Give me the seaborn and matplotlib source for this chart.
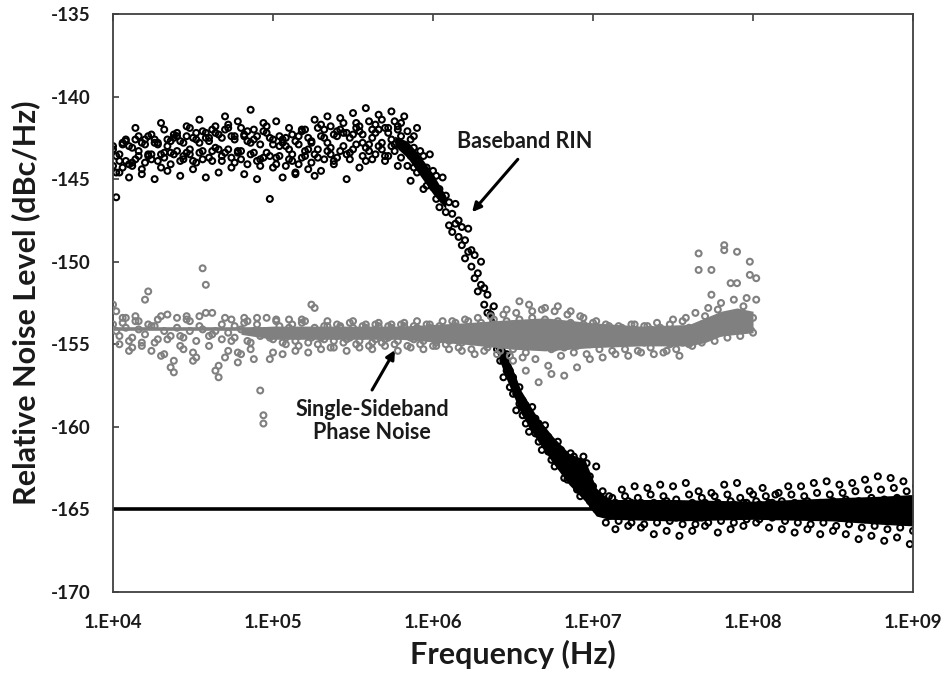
import numpy as np
import pandas as pd
import matplotlib
matplotlib.use("Agg")
import matplotlib.pyplot as plt
from matplotlib.ticker import FixedLocator, FuncFormatter, NullLocator
import seaborn as sns

sns.set_theme(style="white")
plt.rcParams['font.family'] = ['Lato', 'DejaVu Sans']
plt.rcParams['axes.unicode_minus'] = False

# sweep points, log10(frequency / Hz); two interleaved sweeps
grid_a = [4.00, 4.04, 4.08, 4.12, 4.16, 4.20, 4.24, 4.28, 4.32, 4.36,
          4.40, 4.44, 4.48, 4.52, 4.56, 4.60, 4.64, 4.68, 4.72, 4.76,
          4.80, 4.84, 4.88, 4.92, 4.96, 5.00, 5.04, 5.08, 5.12, 5.16,
          5.20, 5.24, 5.28, 5.32, 5.36, 5.40, 5.44, 5.48, 5.52, 5.56,
          5.60, 5.64, 5.68, 5.72, 5.76, 5.80, 5.84, 5.88, 5.92, 5.96,
          6.00, 6.04, 6.08, 6.12, 6.16, 6.20, 6.24, 6.28, 6.32, 6.36,
          6.40, 6.44, 6.48, 6.52, 6.56, 6.60, 6.64, 6.68, 6.72, 6.76,
          6.80, 6.84, 6.88, 6.92, 6.96, 7.00, 7.04, 7.08, 7.12, 7.16,
          7.20, 7.24, 7.28, 7.32, 7.36, 7.40, 7.44, 7.48, 7.52, 7.56,
          7.60, 7.64, 7.68, 7.72, 7.76, 7.80, 7.84, 7.88, 7.92, 7.96,
          8.00, 8.04, 8.08, 8.12, 8.16, 8.20, 8.24, 8.28, 8.32, 8.36,
          8.40, 8.44, 8.48, 8.52, 8.56, 8.60, 8.64, 8.68, 8.72, 8.76,
          8.80, 8.84, 8.88, 8.92, 8.96, 9.00]
grid_b = [4.02, 4.06, 4.10, 4.14, 4.18, 4.22, 4.26, 4.30, 4.34, 4.38,
          4.42, 4.46, 4.50, 4.54, 4.58, 4.62, 4.66, 4.70, 4.74, 4.78,
          4.82, 4.86, 4.90, 4.94, 4.98, 5.02, 5.06, 5.10, 5.14, 5.18,
          5.22, 5.26, 5.30, 5.34, 5.38, 5.42, 5.46, 5.50, 5.54, 5.58,
          5.62, 5.66, 5.70, 5.74, 5.78, 5.82, 5.86, 5.90, 5.94, 5.98,
          6.02, 6.06, 6.10, 6.14, 6.18, 6.22, 6.26, 6.30, 6.34, 6.38,
          6.42, 6.46, 6.50, 6.54, 6.58, 6.62, 6.66, 6.70, 6.74, 6.78,
          6.82, 6.86, 6.90, 6.94, 6.98, 7.02, 7.06, 7.10, 7.14, 7.18,
          7.22, 7.26, 7.30, 7.34, 7.38, 7.42, 7.46, 7.50, 7.54, 7.58,
          7.62, 7.66, 7.70, 7.74, 7.78, 7.82, 7.86, 7.90, 7.94, 7.98,
          8.02, 8.06, 8.10, 8.14, 8.18, 8.22, 8.26, 8.30, 8.34, 8.38,
          8.42, 8.46, 8.50, 8.54, 8.58, 8.62, 8.66, 8.70, 8.74, 8.78,
          8.82, 8.86, 8.90, 8.94, 8.98, 9.02]

# baseband RIN (dBc/Hz), traces
rin_a = [-144.2, -143.5, -143.9, -143.1, -143.6, -142.9, -143.5, -142.8, -143.4, -142.7,
         -143.3, -142.8, -143.2, -142.6, -143.3, -142.7, -143.1, -142.5, -143.2, -142.6,
         -143.3, -142.7, -143.4, -142.9, -143.4, -142.9, -143.6, -143.0, -143.5, -142.9,
         -143.3, -142.7, -143.2, -142.5, -143.1, -142.4, -143.0, -142.5, -142.9, -142.3,
         -142.9, -142.2, -142.8, -142.2, -142.9, -142.4, -143.3, -143.1, -144.3, -144.3,
         -145.5, -145.6, -147.0, -147.1, -148.5, -148.7, -150.3, -150.7, -152.6, -153.2,
         -155.3, -156.0, -157.6, -158.0, -159.3, -159.3, -160.4, -160.4, -161.5, -161.4,
         -162.4, -162.1, -163.0, -162.6, -163.6, -163.6, -165.1, -164.7, -165.3, -164.7,
         -165.2, -164.6, -165.3, -164.8, -165.4, -164.7, -165.3, -164.8, -165.5, -164.9,
         -165.4, -164.8, -165.5, -164.9, -165.4, -164.8, -165.3, -164.7, -165.2, -164.6,
         -165.2, -164.7, -165.1, -164.6, -165.3, -164.8, -165.2, -164.7, -165.4, -164.8,
         -165.3, -164.7, -165.4, -164.8, -165.4, -164.8, -165.5, -164.8, -165.5, -164.7,
         -165.6, -164.8, -165.6, -164.7, -165.5, -164.9]
rin_b = [-143.2, -144.6, -142.6, -144.2, -142.4, -144.0, -142.3, -143.9, -142.0, -144.1,
         -142.2, -143.8, -141.9, -144.0, -142.1, -143.7, -141.8, -143.9, -141.7, -144.0,
         -141.9, -144.1, -142.0, -144.2, -142.2, -144.3, -142.4, -144.2, -142.3, -144.1,
         -142.0, -144.0, -141.9, -143.8, -141.8, -143.7, -141.6, -143.8, -141.6, -143.6,
         -141.5, -143.5, -141.4, -143.6, -141.5, -143.7, -142.1, -144.3, -143.3, -145.4,
         -144.5, -146.7, -146.0, -148.2, -147.5, -149.8, -149.3, -151.8, -151.6, -154.3,
         -154.3, -157.0, -156.6, -159.0, -158.4, -160.3, -159.5, -161.4, -160.6, -162.4,
         -161.4, -163.2, -161.8, -164.2, -162.2, -164.8, -164.2, -165.8, -164.3, -165.7,
         -164.2, -165.8, -164.3, -165.9, -164.1, -165.8, -164.2, -165.7, -164.4, -165.9,
         -164.1, -165.9, -164.3, -165.8, -164.2, -165.7, -164.1, -165.8, -164.3, -165.6,
         -164.1, -165.6, -164.2, -165.5, -164.0, -165.7, -164.1, -165.8, -164.2, -165.9,
         -164.0, -165.8, -164.1, -166.0, -164.0, -165.9, -163.9, -166.1, -163.8, -166.0,
         -163.8, -166.2, -163.7, -166.1, -163.9, -166.3]
rin_c = [-146.1, -142.8, -144.9, -141.9, -144.7, -142.4, -145.0, -141.6, -144.5, -142.3,
         -144.8, -141.8, -144.4, -141.4, -144.9, -142.0, -144.6, -141.2, -144.3, -141.5,
         -144.7, -140.8, -145.0, -141.6, -146.2, -141.5, -144.9, -141.9, -144.6, -142.0,
         -144.4, -141.4, -144.5, -141.2, -144.1, -141.3, -145.0, -141.0, -144.3, -140.7,
         -143.8, -141.1, -143.9, -140.9, -144.2, -141.2, -145.1, -141.9, -145.6, -143.5,
         -146.2, -144.9, -147.8, -146.5, -149.0, -148.0, -151.0, -150.0, -153.1, -152.7,
         -156.0, -155.6, -158.0, -157.6, -159.8, -158.8, -160.9, -159.9, -162.0, -160.9,
         -163.1, -161.6, -163.8, -161.8, -164.5, -162.4, -163.9, -164.2, -166.2, -163.8,
         -166.0, -163.6, -166.1, -163.7, -166.5, -163.5, -166.3, -163.6, -166.6, -163.4,
         -166.3, -163.9, -166.0, -164.0, -166.4, -163.5, -166.2, -163.4, -166.0, -163.9,
         -165.8, -163.7, -166.1, -164.1, -166.2, -163.6, -166.4, -163.6, -166.2, -163.4,
         -166.5, -163.3, -166.3, -163.5, -166.5, -163.4, -166.8, -163.2, -166.6, -163.0,
         -166.9, -163.1, -166.7, -163.3, -167.1, -163.6]
rin_d = [-143.6, -144.3, -143.0, -143.8, -142.8, -143.6, -142.8, -143.5, -142.6, -143.5,
         -142.7, -143.4, -142.5, -143.4, -142.5, -143.3, -142.3, -143.4, -142.4, -143.4,
         -142.3, -143.5, -142.4, -143.7, -142.5, -143.7, -142.8, -143.8, -142.7, -143.7,
         -142.5, -143.5, -142.4, -143.3, -142.3, -143.3, -142.2, -143.2, -142.1, -143.1,
         -142.0, -143.0, -141.9, -143.0, -142.0, -143.1, -142.6, -143.8, -143.6, -144.9,
         -144.8, -146.2, -146.4, -147.7, -147.9, -149.4, -149.6, -151.4, -152.0, -153.9,
         -154.7, -156.6, -157.0, -158.6, -158.7, -159.9, -159.8, -161.0, -160.9, -162.0,
         -161.8, -162.7, -162.4, -163.4, -163.0, -165.0, -164.5, -165.4, -164.6, -165.3,
         -164.5, -165.4, -164.6, -165.3, -164.6, -165.4, -164.5, -165.4, -164.7, -165.3,
         -164.6, -165.5, -164.6, -165.3, -164.6, -165.4, -164.5, -165.3, -164.6, -165.2,
         -164.5, -165.2, -164.6, -165.1, -164.5, -165.3, -164.6, -165.4, -164.5, -165.4,
         -164.6, -165.3, -164.5, -165.5, -164.4, -165.5, -164.5, -165.6, -164.3, -165.6,
         -164.4, -165.7, -164.3, -165.6, -164.4, -165.7]
# extra plateau traces (1e4 .. 8e5 Hz)
rin_e = [-143.0, -143.9, -142.7, -144.0, -143.3, -142.6, -143.8, -142.9, -143.7, -143.4,
         -142.4, -143.6, -143.5, -142.2, -143.8, -142.5, -142.2, -143.6, -141.9, -142.4,
         -143.8, -142.1, -142.6, -143.8, -141.8, -142.6, -143.0, -142.5, -143.9, -142.4,
         -143.6, -142.8, -143.7, -142.0, -143.5, -142.1, -142.2, -143.4, -141.9, -142.8,
         -143.3, -141.7, -143.2, -141.9, -143.3, -141.6, -144.2, -142.4]
rin_f = [-144.6, -142.9, -144.1, -142.6, -144.4, -143.5, -142.6, -144.3, -143.0, -142.5,
         -143.9, -142.4, -143.9, -142.8, -142.2, -143.9, -143.2, -142.0, -143.7, -143.3,
         -142.4, -142.8, -143.9, -142.1, -143.6, -144.1, -142.6, -143.2, -144.7, -142.1,
         -143.2, -144.8, -141.7, -142.8, -143.9, -142.0, -143.5, -142.3, -141.8, -143.9,
         -142.5, -142.0, -143.6, -142.6, -141.8, -143.0, -143.6, -144.6]

# dense parts of the RIN scatter (upper / lower edge)
rin_knee_logf = [5.76, 5.84, 5.92, 6.00, 6.08]
rin_knee_hi = [-142.4, -142.7, -143.6, -144.7, -146.0]
rin_knee_lo = [-143.0, -143.7, -144.8, -145.9, -146.8]
rin_core_logf = [6.35, 6.45, 6.55, 6.65, 6.75, 6.85, 6.95, 7.02, 7.10, 7.50,
                 8.00, 8.50, 8.80, 9.00]
rin_core_hi = [-152.6, -155.3, -157.8, -159.4, -160.6, -161.6, -162.0, -163.7, -164.4, -164.4,
               -164.5, -164.3, -164.2, -164.1]
rin_core_lo = [-154.2, -156.9, -159.2, -160.8, -162.2, -163.5, -164.5, -165.4, -165.6, -165.7,
               -165.6, -165.7, -165.9, -166.0]

# single-sideband phase noise (dBc/Hz), 1e4 .. 1e8 Hz
ssb_a = [-153.8, -154.5, -154.0, -154.6, -154.1, -154.4, -153.9, -154.7, -154.2, -154.5,
         -154.0, -154.6, -154.2, -154.8, -154.1, -154.5, -154.2, -154.7, -154.3, -154.6,
         -154.1, -154.8, -154.2, -154.5, -154.3, -154.7, -154.2, -154.6, -154.3, -154.5,
         -154.2, -154.6, -154.3, -154.7, -154.3, -154.5, -154.2, -154.6, -154.3, -154.5,
         -154.2, -154.7, -154.3, -154.6, -154.2, -154.5, -154.3, -154.7, -154.4, -154.6,
         -154.3, -154.7, -154.3, -154.6, -154.2, -154.7, -154.3, -154.6, -154.2, -154.8,
         -154.3, -154.9, -154.0, -155.0, -153.9, -155.1, -153.8, -155.0, -153.9, -155.2,
         -153.8, -155.1, -154.0, -155.0, -154.1, -154.9, -154.2, -154.8, -154.1, -154.9,
         -154.2, -154.8, -154.2, -154.9, -154.1, -154.8, -154.3, -155.0, -154.2, -154.9,
         -154.0, -154.6, -153.8, -154.4, -153.6, -154.3, -153.3, -154.1, -153.2, -154.0,
         -153.4]
ssb_b = [-152.6, -155.0, -153.4, -155.2, -153.6, -152.3, -155.4, -153.5, -155.6, -156.4,
         -153.4, -155.3, -153.6, -155.8, -150.4, -155.1, -156.6, -153.8, -155.4, -153.9,
         -155.6, -153.6, -155.9, -157.8, -153.4, -155.5, -153.9, -155.0, -153.8, -155.1,
         -153.6, -152.6, -155.0, -153.9, -155.2, -153.8, -154.9, -153.7, -155.0, -153.9,
         -155.1, -153.8, -154.9, -153.9, -155.0, -153.8, -155.1, -153.9, -155.0, -153.8,
         -155.1, -153.9, -155.0, -153.6, -155.2, -153.5, -155.3, -153.4, -155.4, -153.3,
         -155.6, -153.2, -155.7, -153.1, -155.8, -152.6, -155.9, -152.9, -156.3, -153.0,
         -155.7, -153.2, -155.5, -153.3, -155.6, -153.7, -155.3, -153.8, -155.4, -153.9,
         -155.3, -153.8, -155.4, -153.9, -155.2, -153.7, -155.5, -153.8, -155.3, -153.6,
         -155.0, -153.1, -154.9, -152.8, -154.8, -152.5, -154.6, -152.3, -154.5, -152.2,
         -154.3]
ssb_c = [-153.0, -153.7, -155.4, -153.3, -154.9, -151.8, -153.9, -155.7, -153.2, -156.0,
         -155.1, -153.5, -156.0, -153.3, -151.4, -153.1, -157.0, -155.8, -153.5, -156.1,
         -153.7, -155.3, -153.4, -159.3, -155.9, -153.6, -155.6, -154.0, -155.4, -153.5,
         -155.5, -154.0, -155.3, -153.6, -155.2, -154.0, -155.4, -153.6, -155.2, -153.8,
         -155.3, -153.7, -155.1, -153.8, -155.4, -153.7, -155.2, -153.6, -155.3, -153.8,
         -155.1, -153.6, -155.3, -153.7, -155.4, -153.6, -155.6, -153.7, -155.2, -153.5,
         -155.4, -152.9, -156.0, -152.4, -156.6, -153.0, -157.3, -152.8, -156.8, -152.7,
         -156.9, -153.0, -156.4, -153.4, -155.9, -153.6, -155.8, -153.9, -155.6, -154.0,
         -155.7, -153.8, -155.5, -153.9, -155.6, -154.0, -155.4, -153.5, -155.7, -153.4,
         -155.1, -149.5, -153.3, -150.5, -152.9, -149.0, -151.3, -149.4, -152.7, -150.0,
         -151.0]
ssb_d = [-154.2, -153.4, -154.8, -153.6, -155.1, -153.8, -154.9, -153.3, -154.7, -156.7,
         -154.5, -153.3, -155.5, -153.9, -153.1, -154.4, -156.3, -153.4, -154.8, -155.5,
         -153.4, -154.9, -153.8, -159.8, -154.6, -153.5, -154.9, -153.5, -154.8, -153.7,
         -154.9, -152.8, -154.6, -153.9, -154.8, -153.9, -154.7, -154.0, -154.8, -154.0,
         -154.9, -153.9, -154.7, -154.0, -154.8, -153.9, -154.6, -154.0, -154.8, -154.0,
         -154.9, -154.0, -154.8, -153.9, -154.9, -154.0, -154.8, -153.9, -155.0, -153.8,
         -154.9, -153.6, -155.3, -153.5, -155.5, -153.4, -154.6, -153.5, -155.3, -153.6,
         -155.2, -153.7, -155.1, -153.8, -155.0, -154.0, -154.6, -154.3, -154.7, -154.4,
         -154.6, -154.3, -154.7, -154.4, -154.6, -154.3, -154.7, -154.4, -154.6, -154.3,
         -154.4, -150.5, -154.2, -152.0, -153.8, -149.3, -153.5, -151.3, -153.2, -150.8,
         -152.3]

# dense core of the phase-noise scatter
ssb_core_logf = [4.80, 5.00, 5.40, 5.80, 6.20, 6.50, 6.70, 7.00, 7.30,
                 7.60, 7.70, 7.80, 7.90, 8.00]
ssb_core_hi = [-154.0, -153.9, -153.9, -153.9, -153.7, -153.5, -153.4, -153.7, -153.9,
               -153.8, -153.4, -153.0, -152.8, -153.0]
ssb_core_lo = [-154.4, -154.7, -154.7, -154.7, -155.0, -155.3, -155.4, -155.2, -155.1,
               -155.1, -154.9, -154.5, -154.4, -154.3]

# reference levels drawn as lines
rin_floor_db = -165.0
rin_floor_span = [1e4, 1e9]
ssb_floor_db = -154.1
ssb_floor_span = [1e4, 1e8]


def sweep_frame(grid, *traces):
    parts = []
    for tr in traces:
        parts.append(pd.DataFrame({"freq": np.power(10.0, grid[:len(tr)]),
                                   "level": tr}))
    return pd.concat(parts, ignore_index=True)


rin = pd.concat([sweep_frame(grid_a, rin_a, rin_b, rin_e),
                 sweep_frame(grid_b, rin_c, rin_d, rin_f)], ignore_index=True)
ssb = pd.concat([sweep_frame(grid_a, ssb_a, ssb_b),
                 sweep_frame(grid_b, ssb_c, ssb_d)], ignore_index=True)

fig = plt.figure(figsize=(9.49, 6.82), dpi=100)
ax = fig.add_axes([0.1191, 0.132, 0.843, 0.8475])

gray = "#808080"
mk = dict(s=18, marker="o", facecolors="none", linewidth=1.5)
ax.plot(rin_floor_span, [rin_floor_db] * 2, color="black", lw=2.6, zorder=1)
for lf, lo, hi in [(rin_knee_logf, rin_knee_lo, rin_knee_hi),
                   (rin_core_logf, rin_core_lo, rin_core_hi)]:
    ax.fill_between(np.power(10.0, lf), lo, hi, color="black", lw=0, zorder=2)
sns.scatterplot(data=rin, x="freq", y="level", ax=ax, edgecolor="black", zorder=2, **mk)
ax.plot(ssb_floor_span, [ssb_floor_db] * 2, color=gray, lw=2.6, zorder=3)
ax.fill_between(np.power(10.0, ssb_core_logf), ssb_core_lo, ssb_core_hi,
                color=gray, lw=0, zorder=4)
sns.scatterplot(data=ssb, x="freq", y="level", ax=ax, edgecolor=gray, zorder=4, **mk)

ax.set_xscale("log")
ax.set_xlim(1e4, 1e9)
ax.set_ylim(-170, -135)
ax.xaxis.set_major_locator(FixedLocator([1e4, 1e5, 1e6, 1e7, 1e8, 1e9]))
ax.xaxis.set_minor_locator(NullLocator())
ax.xaxis.set_major_formatter(FuncFormatter(lambda v, p: "1.E+%02d" % round(np.log10(v))))
ax.set_yticks(range(-170, -134, 5))

for s in ax.spines.values():
    s.set_color("#404040")
    s.set_linewidth(1.3)
ax.tick_params(axis="x", which="major", direction="in", top=True, bottom=False,
               labelbottom=True, length=5, width=1.2, color="#404040",
               pad=16, labelsize=13.5)
ax.tick_params(axis="y", which="major", direction="in", left=True, length=4.5,
               width=1.2, color="#404040", pad=16, labelsize=13.5)
for lab in ax.get_xticklabels() + ax.get_yticklabels():
    lab.set_fontweight("bold")
    lab.set_color("#1a1a1a")

ax.set_xlabel("Frequency (Hz)", fontsize=22, fontweight="bold", color="#1a1a1a", labelpad=6)
ax.set_ylabel("Relative Noise Level (dBc/Hz)", fontsize=22, fontweight="bold",
              color="#1a1a1a", labelpad=8)

arrow = dict(arrowstyle="-|>", color="black", lw=2.2, mutation_scale=13, shrinkA=0, shrinkB=0)
ax.annotate("", xy=(10 ** 6.244, -147.0), xytext=(10 ** 6.53, -143.8), arrowprops=arrow)
ax.text(10 ** 6.57, -142.75, "Baseband RIN", ha="center", va="center",
        fontsize=15.5, fontweight="bold", color="#1a1a1a")
ax.annotate("", xy=(10 ** 5.7625, -155.35), xytext=(10 ** 5.619, -157.77), arrowprops=arrow)
ax.text(10 ** 5.619, -159.65, "Single-Sideband\nPhase Noise", ha="center", va="center",
        fontsize=15.5, fontweight="bold", color="#1a1a1a", linespacing=1.15)

fig.savefig("out.png", dpi=100)
